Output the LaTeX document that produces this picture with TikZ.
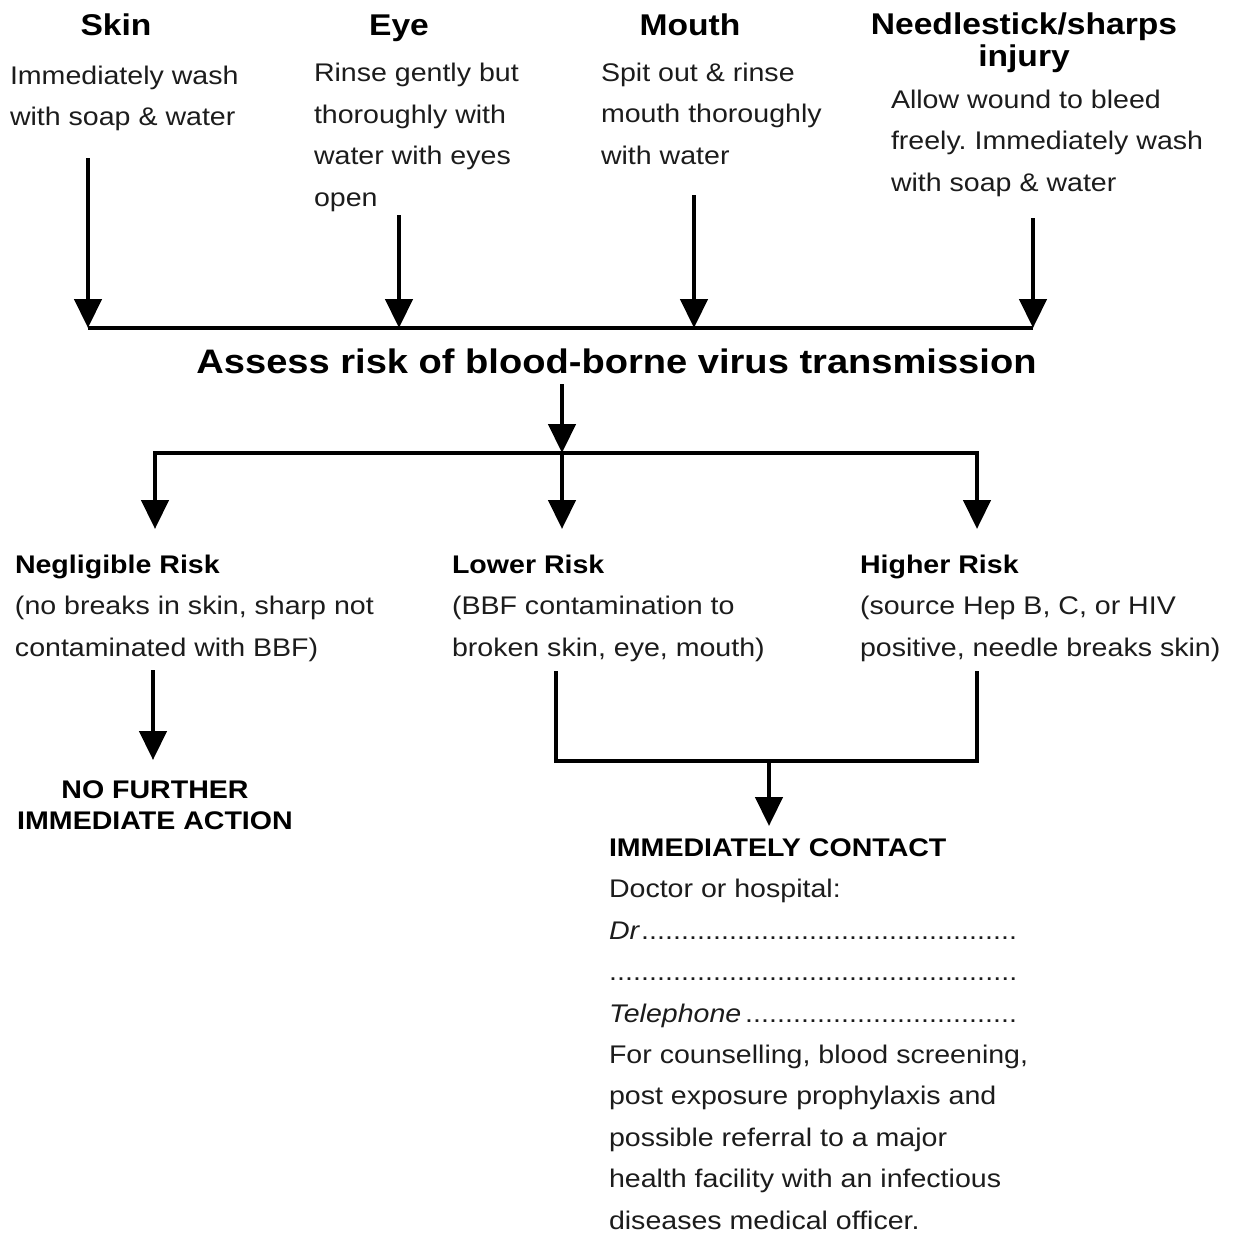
\documentclass[tikz,border=0pt]{standalone}
\usepackage{fontspec}
\setmainfont[FakeStretch=1.12]{Liberation Sans}
\usetikzlibrary{arrows.meta}
\definecolor{txt}{RGB}{28,28,28}
\newcommand{\dotsfill}{\leaders\hbox to 8pt{\hss.\hss}\hfill}
\frenchspacing
\begin{document}
\frenchspacing
\begin{tikzpicture}[x=1pt,y=-1pt,
  body/.style={anchor=base west, inner sep=0, outer sep=0, align=left, text=txt,
               font=\fontsize{25.5}{41.4}\selectfont},
  head/.style={anchor=base, inner sep=0, outer sep=0, align=center, text=black,
               font=\bfseries\fontsize{30}{32}\selectfont},
  big/.style={anchor=base, inner sep=0, outer sep=0, text=black,
              font=\bfseries\fontsize{34}{36}\selectfont},
  final/.style={anchor=base, inner sep=0, outer sep=0, align=center, text=black,
               font=\bfseries\fontsize{25.5}{30.5}\selectfont},
  bar/.style={line width=4.5pt, black},
  arr/.style={line width=4.5pt, black, -{Triangle[length=29pt,width=27pt]}},
  elbow/.style={line width=4pt, black, line cap=rect}
]
\useasboundingbox[fill=white] (0,0) rectangle (1232,1234);

% headings (anchor = baseline of last line)
\node[head] (skinH) at (116,35) {Skin};
\node[head] (eyeH) at (399,35) {Eye};
\node[head] (mouthH) at (690,35) {Mouth};
\node[head] (needleH) at (1024,66) {Needlestick/sharps\\injury};

% first-row texts (anchor = baseline of last line)
\node[body] (skinT) at (10,125.5) {Immediately wash\\with soap \& water};
\node[body] (eyeT) at (314,206) {Rinse gently but\\thoroughly with\\water with eyes\\open};
\node[body] (mouthT) at (601,164) {Spit out \& rinse\\mouth thoroughly\\with water};
\node[body] (needleT) at (891,191) {Allow wound to bleed\\freely. Immediately wash\\with soap \& water};

% arrows into first bar
\coordinate (s1) at (88,158);  \coordinate (j1) at (88,328);
\coordinate (s2) at (399,215); \coordinate (j2) at (399,328);
\coordinate (s3) at (694,195); \coordinate (j3) at (694,328);
\coordinate (s4) at (1033,218);\coordinate (j4) at (1033,328);
\draw[bar] (j1) -- (j4);
\draw[arr] (s1) -- (j1);
\draw[arr] (s2) -- (j2);
\draw[arr] (s3) -- (j3);
\draw[arr] (s4) -- (j4);

% assess
\node[big] (assess) at (616.5,373) {Assess risk of blood-borne virus transmission};
\coordinate (a0) at (562,384); \coordinate (k2) at (562,453);
\coordinate (k1) at (155,453); \coordinate (k3) at (977,453);
\draw[arr] (a0) -- (k2);
\draw[elbow] (k1) -- (k3);
\coordinate (t1) at (155,529); \coordinate (t2) at (562,529); \coordinate (t3) at (977,529);
\draw[arr] (k1) -- (t1);
\draw[arr] (k2) -- (t2);
\draw[arr] (k3) -- (t3);

% risk levels
\node[body] (negl) at (15,656) {\textbf{\color{black}Negligible Risk}\\(no breaks in skin, sharp not\\contaminated with BBF)};
\node[body] (lower) at (452,656) {\textbf{\color{black}Lower Risk}\\(BBF contamination to\\broken skin, eye, mouth)};
\node[body] (higher) at (860,656) {\textbf{\color{black}Higher Risk}\\(source Hep B, C, or HIV\\positive, needle breaks skin)};

% negligible outcome
\coordinate (n0) at (153,670); \coordinate (n1) at (153,760);
\draw[arr] (n0) -- (n1);
\node[final] (nofurther) at (155,829) {NO FURTHER\\IMMEDIATE ACTION};

% lower/higher merge
\coordinate (l0) at (556,673); \coordinate (l1) at (556,761);
\coordinate (h0) at (977,673); \coordinate (h1) at (977,761);
\coordinate (m0) at (769,761); \coordinate (m1) at (769,826);
\draw[elbow] (l0) -- (l1) -- (h1) -- (h0);
\draw[arr] (m0) -- (m1);

% contact
\node[body] (contact) at (609,1229) {\textbf{\color{black}IMMEDIATELY CONTACT}\\
Doctor or hospital:\\
\makebox[413pt][l]{\textit{Dr}\dotsfill}\\
\makebox[413pt][l]{\dotsfill}\\
\makebox[411pt][l]{\textit{Telephone}\dotsfill}\\
For counselling, blood screening,\\
post exposure prophylaxis and\\
possible referral to a major\\
health facility with an infectious\\
diseases medical officer.};
\end{tikzpicture}
\end{document}
